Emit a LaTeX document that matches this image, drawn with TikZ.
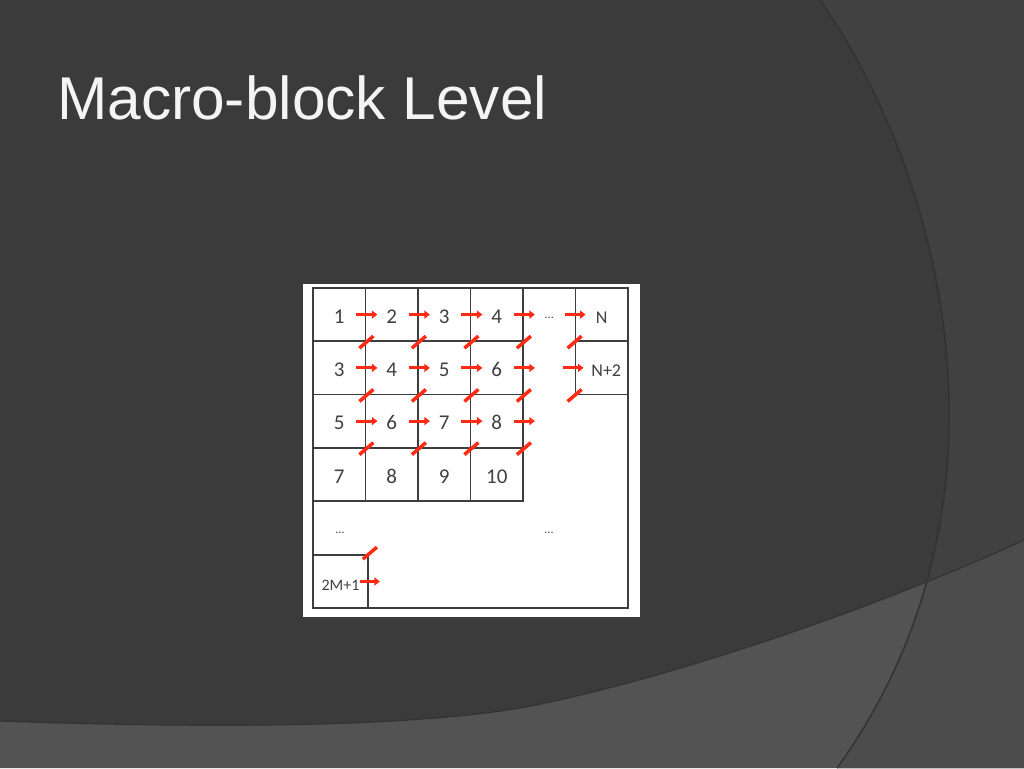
\documentclass[tikz,border=0pt]{standalone}
\usepackage{fontspec}
\setmainfont{Liberation Sans}
\newfontfamily\cellfont[Numbers=Lining]{Carlito}
\usetikzlibrary{arrows.meta}
\definecolor{slidebg}{HTML}{3B3B3B}
\definecolor{slidearc}{HTML}{414141}
\definecolor{slideband}{HTML}{535353}
\definecolor{bandarc}{HTML}{4C4C4C}
\definecolor{arcline}{HTML}{333333}
\definecolor{titlewhite}{HTML}{F4F4F4}
\definecolor{gridgray}{HTML}{3E3E3E}
\definecolor{numgray}{HTML}{404040}
\definecolor{markred}{HTML}{FF2B14}

\begin{document}
\begin{tikzpicture}[x=1pt,y=-1pt]
    \tikzset{cell/.style = {shape=rectangle, draw=gridgray, line width=1.8pt, minimum width=52.5pt, minimum height=53.25pt, inner sep=0pt, text height=17.4pt, text depth=0pt, text=numgray, font=\cellfont\fontsize{21}{24}\selectfont}}
    \tikzset{dots/.style = {inner sep=0pt, text=numgray, font=\cellfont\fontsize{12}{14}\selectfont}}
    \tikzset{hop/.style = {draw=markred, line width=3pt, -{Triangle[length=5.5pt,width=8pt]}}}
    \tikzset{slash/.style = {draw=markred, line width=3.5pt}}

    \useasboundingbox (0,0) rectangle (1024,768);

    % slide
    \fill[slidebg] (0,0) rectangle (1024,768);
    \fill[slidearc] (820,0) .. controls (940,170) and (1030,500) .. (837,768) -- (1024,768) -- (1024,0) -- cycle;
    \fill[slideband] (0,721) .. controls (200,728) and (400,728) .. (520,708) .. controls (640,686) and (850,620) .. (1024,540) -- (1024,768) -- (0,768) -- cycle;
    \begin{scope}
        \clip (0,721) .. controls (200,728) and (400,728) .. (520,708) .. controls (640,686) and (850,620) .. (1024,540) -- (1024,768) -- (0,768) -- cycle;
        \fill[bandarc] (820,0) .. controls (940,170) and (1030,500) .. (837,768) -- (1024,768) -- (1024,0) -- cycle;
    \end{scope}
    \draw[arcline, line width=1.5pt] (820,0) .. controls (940,170) and (1030,500) .. (837,768);
    \draw[arcline, line width=1.2pt] (0,721) .. controls (200,728) and (400,728) .. (520,708) .. controls (640,686) and (850,620) .. (1024,540);

    \node[anchor=base west, inner sep=0pt, text=titlewhite, font=\fontsize{60.4}{72}\selectfont] (title) at (57,119) {Macro-block Level};

    % picture
    \fill[white] (303,284) rectangle (640,617);
    \draw[gridgray, line width=1.8pt] (313,288) rectangle (628,608);

    % cells
    \node[cell] (c11) at (339.25,314.6) {1};
    \node[cell] (c12) at (391.75,314.6) {2};
    \node[cell] (c13) at (444.25,314.6) {3};
    \node[cell] (c14) at (496.75,314.6) {4};
    \node[dots] (d1) at (549.25,318) {...};
    \node[cell, font=\cellfont\fontsize{18}{22}\selectfont] (nn) at (601.75,314.6) {N};
    \node[cell] (c21) at (339.25,367.9) {3};
    \node[cell] (c22) at (391.75,367.9) {4};
    \node[cell] (c23) at (444.25,367.9) {5};
    \node[cell] (c24) at (496.75,367.9) {6};
    \node[cell, font=\cellfont\fontsize{18}{22}\selectfont] (nt) at (601.75,367.9) {\hspace*{9pt}N+2};
    \node[cell] (c31) at (339.25,421.1) {5};
    \node[cell] (c32) at (391.75,421.1) {6};
    \node[cell] (c33) at (444.25,421.1) {7};
    \node[cell] (c34) at (496.75,421.1) {8};
    \node[cell] (c41) at (339.25,474.4) {7};
    \node[cell] (c42) at (391.75,474.4) {8};
    \node[cell] (c43) at (444.25,474.4) {9};
    \node[cell] (c44) at (496.75,474.4) {10};
    \node[dots] (d2) at (340,533) {...};
    \node[dots] (d3) at (549,533) {...};
    \node[cell, minimum width=55pt, minimum height=53pt, text height=18.4pt, font=\cellfont\fontsize{16}{20}\selectfont] (mm) at (340.5,581.5) {2M+1};

    % hops
    \draw[hop] ([xshift=-10pt]c11.east) -- ([xshift=11pt]c11.east);
    \draw[hop] ([xshift=-10pt]c12.east) -- ([xshift=11pt]c12.east);
    \draw[hop] ([xshift=-10pt]c13.east) -- ([xshift=11pt]c13.east);
    \draw[hop] ([xshift=-10pt]c14.east) -- ([xshift=11pt]c14.east);
    \draw[hop] ([xshift=-10pt]nn.west) -- ([xshift=11pt]nn.west);
    \draw[hop] ([xshift=-10pt]c21.east) -- ([xshift=11pt]c21.east);
    \draw[hop] ([xshift=-10pt]c22.east) -- ([xshift=11pt]c22.east);
    \draw[hop] ([xshift=-10pt]c23.east) -- ([xshift=11pt]c23.east);
    \draw[hop] ([xshift=-10pt]c24.east) -- ([xshift=11pt]c24.east);
    \draw[hop] ([xshift=-12pt]nt.west) -- ([xshift=9pt]nt.west);
    \draw[hop] ([xshift=-10pt]c31.east) -- ([xshift=11pt]c31.east);
    \draw[hop] ([xshift=-10pt]c32.east) -- ([xshift=11pt]c32.east);
    \draw[hop] ([xshift=-10pt]c33.east) -- ([xshift=11pt]c33.east);
    \draw[hop] ([xshift=-10pt]c34.east) -- ([xshift=11pt]c34.east);
    \draw[hop] ([xshift=-9pt]mm.east) -- ([xshift=11pt]mm.east);

    % slashes
    \draw[slash] ([shift={(-7pt,-6pt)}]c11.south east) -- ([shift={(7pt,6pt)}]c11.south east);
    \draw[slash] ([shift={(-7pt,-6pt)}]c12.south east) -- ([shift={(7pt,6pt)}]c12.south east);
    \draw[slash] ([shift={(-7pt,-6pt)}]c13.south east) -- ([shift={(7pt,6pt)}]c13.south east);
    \draw[slash] ([shift={(-7pt,-6pt)}]c14.south east) -- ([shift={(7pt,6pt)}]c14.south east);
    \draw[slash] ([shift={(-7pt,-6pt)}]nn.south west) -- ([shift={(7pt,6pt)}]nn.south west);
    \draw[slash] ([shift={(-7pt,-6pt)}]c21.south east) -- ([shift={(7pt,6pt)}]c21.south east);
    \draw[slash] ([shift={(-7pt,-6pt)}]c22.south east) -- ([shift={(7pt,6pt)}]c22.south east);
    \draw[slash] ([shift={(-7pt,-6pt)}]c23.south east) -- ([shift={(7pt,6pt)}]c23.south east);
    \draw[slash] ([shift={(-7pt,-6pt)}]c24.south east) -- ([shift={(7pt,6pt)}]c24.south east);
    \draw[slash] ([shift={(-7pt,-6pt)}]nt.south west) -- ([shift={(7pt,6pt)}]nt.south west);
    \draw[slash] ([shift={(-7pt,-6pt)}]c31.south east) -- ([shift={(7pt,6pt)}]c31.south east);
    \draw[slash] ([shift={(-7pt,-6pt)}]c32.south east) -- ([shift={(7pt,6pt)}]c32.south east);
    \draw[slash] ([shift={(-7pt,-6pt)}]c33.south east) -- ([shift={(7pt,6pt)}]c33.south east);
    \draw[slash] ([shift={(-7pt,-6pt)}]c34.south east) -- ([shift={(7pt,6pt)}]c34.south east);
    \draw[slash] ([shift={(-6pt,-5pt)}]mm.north east) -- ([shift={(8pt,7pt)}]mm.north east);
\end{tikzpicture}
\end{document}
